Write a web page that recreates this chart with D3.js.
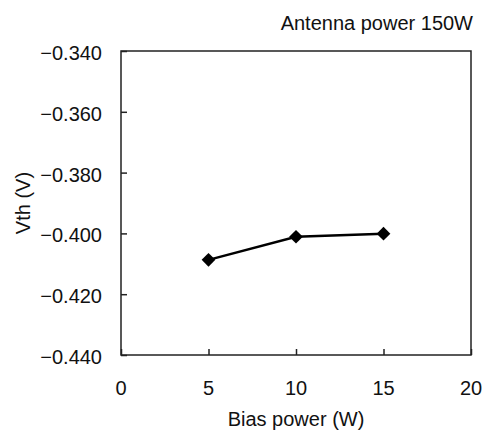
<!DOCTYPE html>
<html>
<head>
<meta charset="utf-8">
<script src="https://cdn.jsdelivr.net/npm/d3@7"></script>
<style>
	body { margin: 0; background: #fff; }
	text { font-family: "Liberation Sans", Arial, sans-serif; fill: #111; }
</style>
</head>
<body>
<div id="wrapper"></div>
<script>
// data
const biasPower = [5, 10, 15];
const vth = [-0.4087, -0.4011, -0.4001];
const xTicks = [0, 5, 10, 15, 20];
const yTicks = [-0.34, -0.36, -0.38, -0.40, -0.42, -0.44];

const width = 485;
const height = 432;
const margin = {top: 51, right: 14, bottom: 77, left: 121};

const svg = d3.select("#wrapper")
	.append("svg")
	.attr("width", width)
	.attr("height", height);

const xScale = d3.scaleLinear()
	.domain([0, 20])
	.range([margin.left, width - margin.right]);

const yScale = d3.scaleLinear()
	.domain([-0.44, -0.34])
	.range([height - margin.bottom, margin.top]);

// frame
svg.append("rect")
	.attr("x", xScale(0))
	.attr("y", yScale(-0.34))
	.attr("width", xScale(20) - xScale(0))
	.attr("height", yScale(-0.44) - yScale(-0.34))
	.attr("fill", "none")
	.attr("stroke", "#222")
	.attr("stroke-width", 1.5);

// x axis, ticks pointing inward
const xAxis = svg.append("g")
	.attr("transform", "translate(0," + yScale(-0.44) + ")")
	.call(d3.axisTop(xScale).tickValues(xTicks).tickSize(6).tickFormat(""));
xAxis.select(".domain").remove();
xAxis.selectAll("line").attr("stroke", "#222").attr("stroke-width", 1.5);

svg.selectAll(".xlab")
	.data(xTicks)
	.enter().append("text")
	.attr("x", d => xScale(d))
	.attr("y", yScale(-0.44) + 40)
	.attr("text-anchor", "middle")
	.attr("font-size", 20)
	.text(d => d);

// y axis, ticks pointing inward
const yAxis = svg.append("g")
	.attr("transform", "translate(" + xScale(0) + ",0)")
	.call(d3.axisRight(yScale).tickValues(yTicks).tickSize(6).tickFormat(""));
yAxis.select(".domain").remove();
yAxis.selectAll("line").attr("stroke", "#222").attr("stroke-width", 1.5);

svg.selectAll(".ylab")
	.data(yTicks)
	.enter().append("text")
	.attr("x", xScale(0) - 19)
	.attr("y", d => yScale(d) + 9)
	.attr("text-anchor", "end")
	.attr("font-size", 20)
	.text(d => d3.format(".3f")(d).replace("-", "\u2212"));

// axis titles
svg.append("text")
	.attr("x", (xScale(0) + xScale(20)) / 2)
	.attr("y", 426)
	.attr("text-anchor", "middle")
	.attr("font-size", 20)
	.text("Bias power (W)");

svg.append("text")
	.attr("transform", "translate(30," + yScale(-0.39) + ") rotate(-90)")
	.attr("text-anchor", "middle")
	.attr("font-size", 20)
	.text("Vth (V)");

svg.append("text")
	.attr("x", 473)
	.attr("y", 30)
	.attr("text-anchor", "end")
	.attr("font-size", 20)
	.text("Antenna power 150W");

// series
const line = d3.line()
	.x((d, i) => xScale(biasPower[i]))
	.y(d => yScale(d));

svg.append("path")
	.datum(vth)
	.attr("d", line)
	.attr("fill", "none")
	.attr("stroke", "#000")
	.attr("stroke-width", 2.5);

svg.selectAll(".pt")
	.data(vth)
	.enter().append("path")
	.attr("transform", (d, i) => "translate(" + xScale(biasPower[i]) + "," + yScale(d) + ")")
	.attr("d", d3.symbol().type(d3.symbolDiamond2).size(120))
	.attr("fill", "#000");
</script>
</body>
</html>
